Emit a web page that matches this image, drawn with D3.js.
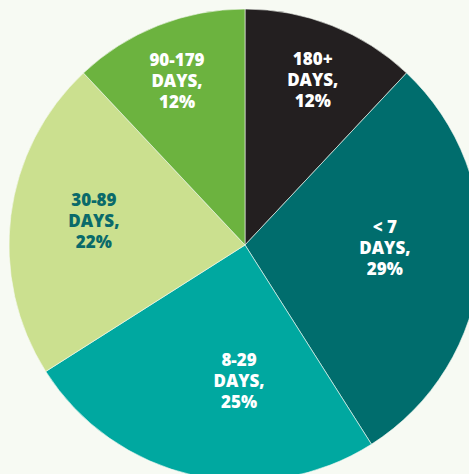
<!DOCTYPE html>
<html><head><meta charset="utf-8">
<script src="https://cdn.jsdelivr.net/npm/d3@7"></script>
<style>html,body{margin:0;padding:0;background:#f7faf3;overflow:hidden}</style>
</head><body>
<svg id="chart" width="469" height="474"></svg>
<script>
const categories = ["180+", "< 7", "8-29", "30-89", "90-179"];
const values = [12, 29, 25, 22, 12];
const labelLines = [["180+", "DAYS,", "12%"], ["< 7", "DAYS,", "29%"], ["8-29", "DAYS,", "25%"], ["30-89", "DAYS,", "22%"], ["90-179", "DAYS,", "12%"]];

const colors = ["#231f20", "#006d6d", "#00a8a0", "#cbe08f", "#6cb33f"];
const textColors = ["#ffffff", "#ffffff", "#ffffff", "#0a6a6a", "#ffffff"];
const labelRadiusFrac = [0.75, 0.593, 0.58, 0.648, 0.75];
const labelAngleNudge = [0.9, -3.8, -10.1, 1.5, -1]; // degrees

const svg = d3.select("#chart");
const cx = 245, cy = 245, R = 236;
const g = svg.append("g").attr("transform", `translate(${cx},${cy})`);

const pie = d3.pie().sort(null).value(d => d)(values);
const arc = d3.arc().innerRadius(0).outerRadius(R);

g.selectAll("path").data(pie).join("path")
  .attr("d", arc)
  .attr("fill", (d, i) => colors[i])
  .attr("stroke", "#f7faf3").attr("stroke-width", 0.6);

pie.forEach((d, i) => {
  const a = (d.startAngle + d.endAngle) / 2 + labelAngleNudge[i] * Math.PI / 180;
  const r = R * labelRadiusFrac[i];
  const x = Math.sin(a) * r, y = -Math.cos(a) * r;
  const t = g.append("text")
    .attr("x", x).attr("y", y)
    .attr("text-anchor", "middle")
    .attr("dominant-baseline", "middle")
    .attr("fill", textColors[i])
    .style("font-family", "'Open Sans', sans-serif")
    .style("font-weight", 800)
    .style("font-size", "17px");
  labelLines[i].forEach((ln, k) => {
    t.append("tspan").attr("x", x).attr("dy", k === 0 ? "-21px" : "21px").text(ln);
  });
});
</script>
</body></html>
